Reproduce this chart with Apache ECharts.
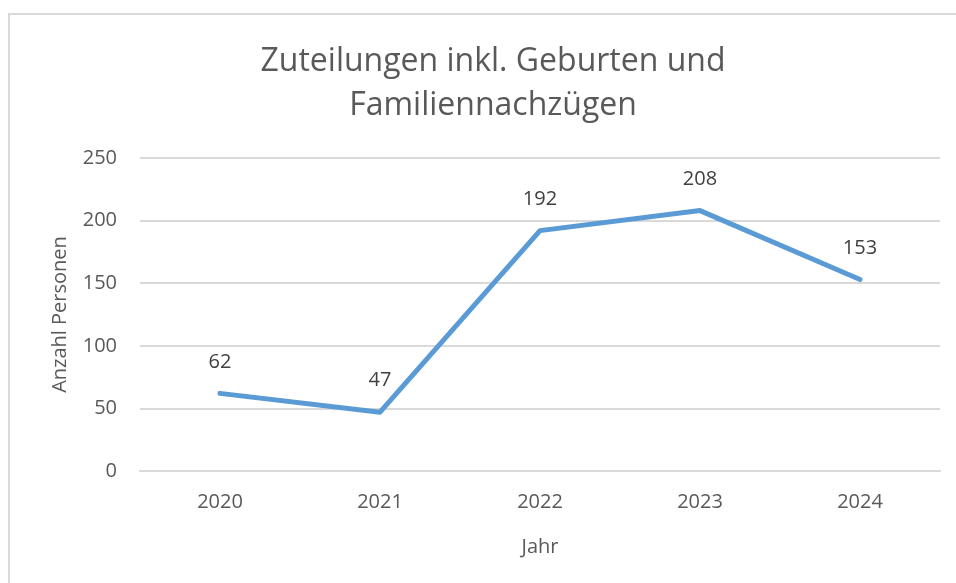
<!DOCTYPE html>
<html style="height: 100%">
<head>
    <meta charset="utf-8">
    <title>Zuteilungen</title>
</head>
<body style="height: 100%; margin: 0; background: #fff;">
    <div id="frame" style="position: absolute; left: 8px; top: 13px; width: 960px; height: 600px; border: 2px solid #d9d9d9; box-sizing: border-box;"></div>
    <div id="container" style="position: absolute; left: 0; top: 0; width: 956px; height: 583px;"></div>
    <script src="https://cdn.jsdelivr.net/npm/echarts@6/dist/echarts.min.js"></script>
    <script type="text/javascript">
        var years = ['2020', '2021', '2022', '2023', '2024'];
        var persons = [62, 47, 192, 208, 153];
        var yTicks = [0, 50, 100, 150, 200, 250];

        var font = '"Open Sans", "Noto Sans", sans-serif';
        var dom = document.getElementById("container");
        var myChart = echarts.init(dom);
        var option = {
            animation: false,
            title: {
                text: 'Zuteilungen inkl. Geburten und\nFamiliennachzügen',
                left: 488,
                textAlign: 'center',
                top: 35,
                textStyle: {
                    fontFamily: font,
                    fontSize: 32,
                    fontWeight: 'normal',
                    color: '#595959',
                    lineHeight: 44
                }
            },
            grid: {
                left: 140,
                right: 16,
                top: 158,
                bottom: 112
            },
            xAxis: {
                type: 'category',
                data: years,
                boundaryGap: true,
                name: 'Jahr',
                nameLocation: 'middle',
                nameGap: 66,
                nameTextStyle: { fontFamily: font, fontSize: 20, color: '#595959' },
                axisLine: { show: true, lineStyle: { color: '#d9d9d9', width: 2 } },
                axisTick: { show: false },
                axisLabel: { fontFamily: font, fontSize: 20, color: '#595959', margin: 21 }
            },
            yAxis: {
                type: 'value',
                min: yTicks[0],
                max: yTicks[yTicks.length - 1],
                interval: 50,
                name: 'Anzahl Personen',
                nameLocation: 'middle',
                nameGap: 70,
                nameTextStyle: { fontFamily: font, fontSize: 20, color: '#595959' },
                axisLine: { show: false },
                axisTick: { show: false },
                axisLabel: { fontFamily: font, fontSize: 20, color: '#595959', margin: 23 },
                splitLine: { lineStyle: { color: '#d9d9d9', width: 2 } }
            },
            series: [{
                type: 'line',
                data: persons,
                symbol: 'circle',
                symbolSize: 1,
                itemStyle: { color: '#5b9bd5' },
                lineStyle: { color: '#5b9bd5', width: 5, cap: 'round', join: 'round' },
                label: {
                    show: true,
                    position: 'top',
                    distance: 21,
                    fontFamily: font,
                    fontSize: 20,
                    color: '#404040'
                }
            }]
        };
        myChart.setOption(option, true);
    </script>
</body>
</html>
